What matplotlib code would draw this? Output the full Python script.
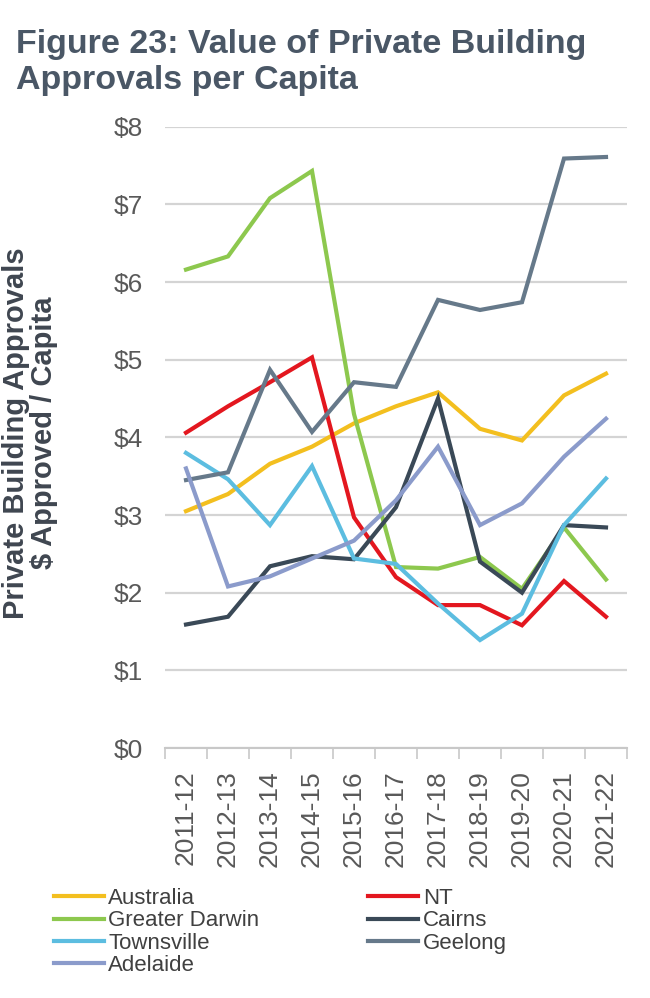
import matplotlib
matplotlib.use("Agg")
import matplotlib.pyplot as plt
import matplotlib.ticker as ticker

# categories
YEARS = ["2011-12", "2012-13", "2013-14", "2014-15", "2015-16", "2016-17",
         "2017-18", "2018-19", "2019-20", "2020-21", "2021-22"]

# $ approved per capita
AUSTRALIA = [3.05, 3.27, 3.66, 3.88, 4.18, 4.40, 4.58, 4.11, 3.96, 4.54, 4.82]
NT = [4.06, 4.40, 4.71, 5.03, 2.97, 2.20, 1.84, 1.84, 1.58, 2.15, 1.69]
GREATER_DARWIN = [6.16, 6.33, 7.08, 7.43, 4.30, 2.33, 2.31, 2.46, 2.05, 2.84, 2.17]
CAIRNS = [1.59, 1.69, 2.34, 2.47, 2.43, 3.10, 4.50, 2.40, 2.00, 2.87, 2.84]
TOWNSVILLE = [3.80, 3.46, 2.87, 3.63, 2.44, 2.37, 1.86, 1.39, 1.73, 2.87, 3.47]
GEELONG = [3.45, 3.55, 4.87, 4.07, 4.71, 4.65, 5.77, 5.64, 5.74, 7.59, 7.61]
ADELAIDE = [3.60, 2.08, 2.21, 2.44, 2.67, 3.19, 3.88, 2.87, 3.15, 3.75, 4.24]

Y_TICKS = [0, 1, 2, 3, 4, 5, 6, 7, 8]

# name, values, colour (drawing order)
SERIES = [
    ("Australia", AUSTRALIA, "#f3bf1f"),
    ("NT", NT, "#e3171f"),
    ("Greater Darwin", GREATER_DARWIN, "#8dc84e"),
    ("Cairns", CAIRNS, "#3a4957"),
    ("Townsville", TOWNSVILLE, "#5cbde0"),
    ("Geelong", GEELONG, "#66798a"),
    ("Adelaide", ADELAIDE, "#8b9bcb"),
]
LEGEND_ORDER = ["Australia", "Greater Darwin", "Townsville", "Adelaide",
                "NT", "Cairns", "Geelong"]

TITLE = "Figure 23: Value of Private Building\nApprovals per Capita"
Y_LABEL = "Private Building Approvals\n$ Approved / Capita"

TEXT_GREY = "#595959"
GRID_GREY = "#d4d4d4"

plt.rcParams["font.family"] = ["Liberation Sans", "DejaVu Sans"]


def main():
    fig = plt.figure(figsize=(6.5, 9.98), dpi=100)
    ax = fig.add_axes([165 / 650, 1 - 748 / 998, 462 / 650, (748 - 126.7) / 998])

    x = list(range(len(YEARS)))
    lines = {}
    for name, values, color in SERIES:
        ln, = ax.plot(x, values, color=color, linewidth=3.0, label=name,
                      solid_joinstyle="miter", zorder=3)
        lines[name] = ln

    # axes
    ax.set_xlim(-0.5, len(YEARS) - 0.5)
    ax.set_ylim(0, 8)
    ax.set_yticks(Y_TICKS)
    ax.yaxis.set_major_formatter(ticker.FuncFormatter(lambda v, p: f"${v:.0f}"))
    ax.set_xticks(x)
    ax.set_xticklabels(YEARS, rotation=90, va="top", ha="center")
    ax.set_xticks([i - 0.5 for i in range(len(YEARS) + 1)], minor=True)

    ax.tick_params(axis="y", length=0, pad=16, labelsize=19, labelcolor=TEXT_GREY)
    ax.tick_params(axis="x", which="major", length=0, pad=16, labelsize=19,
                   labelcolor=TEXT_GREY)
    ax.tick_params(axis="x", which="minor", length=8, width=1.2, color="#c8c8c8")

    for side in ["top", "right", "left"]:
        ax.spines[side].set_visible(False)
    ax.spines["bottom"].set_color("#c8c8c8")
    ax.spines["bottom"].set_linewidth(1.5)

    ax.grid(axis="y", color=GRID_GREY, linewidth=1.6, zorder=0)
    ax.set_axisbelow(True)

    # titles
    fig.text(16 / 650, 1 - 29 / 998, TITLE, ha="left", va="top", fontsize=24.5,
             fontweight="bold", color="#4a5766", linespacing=1.22)
    fig.text(30 / 650, 1 - 433 / 998, Y_LABEL, rotation=90, ha="center",
             va="center", fontsize=21, fontweight="bold", color="#3f4650",
             linespacing=1.0, multialignment="center")

    # legend
    handles = [lines[n] for n in LEGEND_ORDER]
    fig.legend(handles, LEGEND_ORDER, ncol=2, loc="upper left",
               bbox_to_anchor=(54 / 650, 1 - 888 / 998),
               bbox_transform=fig.transFigure, frameon=False, fontsize=16,
               handlelength=2.25, handletextpad=0.2, columnspacing=4.9,
               labelspacing=0.06, borderpad=0, borderaxespad=0,
               labelcolor="#404040")

    fig.savefig("out.png", dpi=100)


if __name__ == "__main__":
    main()
